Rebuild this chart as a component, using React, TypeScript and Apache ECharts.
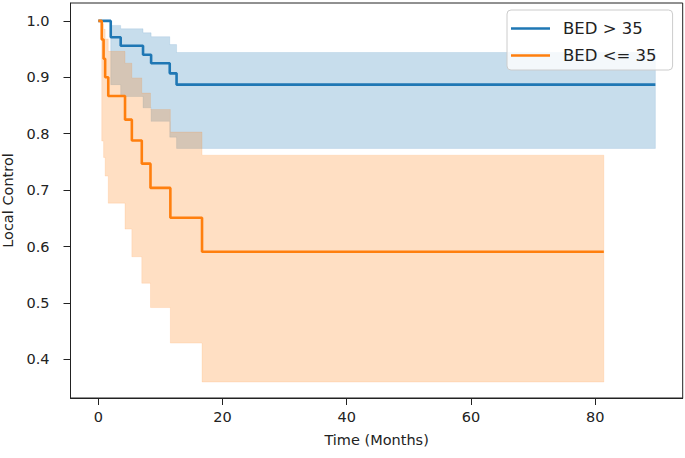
import React, { useEffect, useRef } from "react";
import * as echarts from "echarts";

// BED > 35 (blue)
const blueTimes = [0, 2.0, 3.6, 7.2, 8.5, 11.5, 12.6, 89.7];
const blueSurv = [1.0, 0.971, 0.956, 0.940, 0.925, 0.907, 0.887, 0.887];
const blueUpper = [1.0, 0.992, 0.986, 0.979, 0.972, 0.958, 0.944, 0.944];
const blueLower = [1.0, 0.887, 0.866, 0.846, 0.822, 0.794, 0.774, 0.774];

// BED <= 35 (orange)
const orangeTimes = [0, 0.55, 0.85, 1.1, 1.6, 4.3, 5.4, 7.0, 8.4, 11.6, 16.7, 81.4];
const orangeSurv = [1.0, 0.967, 0.933, 0.9, 0.867, 0.825, 0.788, 0.747, 0.704, 0.651, 0.591, 0.591];
const orangeUpper = [1.0, 0.995, 0.985, 0.968, 0.946, 0.925, 0.899, 0.872, 0.843, 0.803, 0.762, 0.762];
const orangeLower = [1.0, 0.787, 0.758, 0.725, 0.677, 0.631, 0.582, 0.535, 0.492, 0.429, 0.36, 0.36];

const seriesNames = ["BED > 35", "BED <= 35"];
const xTicks = [0, 20, 40, 60, 80];
const yTicks = [0.4, 0.5, 0.6, 0.7, 0.8, 0.9, 1.0];

const BLUE = "#1f77b4";
const ORANGE = "#ff7f0e";
const FONT = "DejaVu Sans";

function band(times: number[], upper: number[], lower: number[], fill: string, edge: string) {
  return {
    type: "custom",
    silent: true,
    data: [[0, 1]],
    renderItem: (_params: any, api: any) => {
      const pts: number[][] = [];
      for (let i = 0; i < times.length - 1; i++) {
        pts.push(api.coord([times[i], upper[i]]));
        pts.push(api.coord([times[i + 1], upper[i]]));
      }
      for (let i = times.length - 2; i >= 0; i--) {
        pts.push(api.coord([times[i + 1], lower[i]]));
        pts.push(api.coord([times[i], lower[i]]));
      }
      return {
        type: "polygon",
        shape: { points: pts },
        style: { fill, stroke: edge, lineWidth: 1 },
      };
    },
  };
}

function line(name: string, times: number[], surv: number[], color: string) {
  return {
    type: "line",
    name,
    step: "end",
    symbol: "none",
    showSymbol: false,
    color,
    itemStyle: { color },
    lineStyle: { color, width: 2.6 },
    data: times.map((t, i) => [t, surv[i]]),
  };
}

export default function App() {
  const ref = useRef<HTMLDivElement>(null);
  useEffect(() => {
    if (!ref.current) return;
    const chart = echarts.init(ref.current, undefined, { renderer: "svg" });
    chart.setOption({
      animation: false,
      backgroundColor: "#ffffff",
      textStyle: { fontFamily: FONT },
      grid: {
        left: 70.5,
        right: 2.3,
        top: 3,
        bottom: 60,
        show: true,
        borderColor: "#222",
        borderWidth: 1,
        containLabel: false,
        outerBoundsMode: "none",
      },
      legend: {
        data: seriesNames,
        orient: "vertical",
        left: 507,
        top: 10,
        icon: "rect",
        itemWidth: 39,
        itemHeight: 2.5,
        itemGap: 8,
        padding: [9, 16, 5, 4],
        backgroundColor: "rgba(255,255,255,0.8)",
        borderColor: "#cccccc",
        borderWidth: 1,
        borderRadius: 4,
        textStyle: { fontFamily: FONT, fontSize: 16.5, color: "#222", lineHeight: 19, padding: [0, 0, 0, 8] },
      },
      xAxis: {
        type: "value",
        min: -4.48,
        max: 94.1,
        name: "Time (Months)",
        nameLocation: "middle",
        nameGap: 34,
        nameTextStyle: { fontFamily: FONT, fontSize: 14.5, color: "#222" },
        splitLine: { show: false },
        axisLine: { show: true, onZero: false, lineStyle: { color: "#222", width: 1 } },
        axisTick: { show: true, length: 7, customValues: xTicks, lineStyle: { color: "#222" } },
        axisLabel: {
          customValues: xTicks,
          margin: 11,
          fontFamily: FONT,
          fontSize: 14.5,
          color: "#222",
          formatter: (v: number) => String(Math.round(v)),
        },
      },
      yAxis: {
        type: "value",
        min: 0.3317,
        max: 1.0317,
        name: "Local Control",
        nameLocation: "middle",
        nameRotate: 90,
        nameGap: 51,
        nameTextStyle: { fontFamily: FONT, fontSize: 14.5, color: "#222" },
        splitLine: { show: false },
        axisLine: { show: true, onZero: false, lineStyle: { color: "#222", width: 1 } },
        axisTick: { show: true, length: 7, customValues: yTicks, lineStyle: { color: "#222" } },
        axisLabel: {
          customValues: yTicks,
          margin: 21,
          fontFamily: FONT,
          fontSize: 14.5,
          color: "#222",
          formatter: (v: number) => v.toFixed(1),
        },
      },
      series: [
        band(blueTimes, blueUpper, blueLower, "rgba(31,119,180,0.25)", "rgba(31,119,180,0.12)"),
        line(seriesNames[0], blueTimes, blueSurv, BLUE),
        band(orangeTimes, orangeUpper, orangeLower, "rgba(255,127,14,0.25)", "rgba(255,127,14,0.12)"),
        line(seriesNames[1], orangeTimes, orangeSurv, ORANGE),
      ],
    });
    return () => chart.dispose();
  }, []);
  return (
    <div
      ref={ref}
      style={{ position: "fixed", left: 0, top: 0, width: 685, height: 458 }}
    />
  );
}
